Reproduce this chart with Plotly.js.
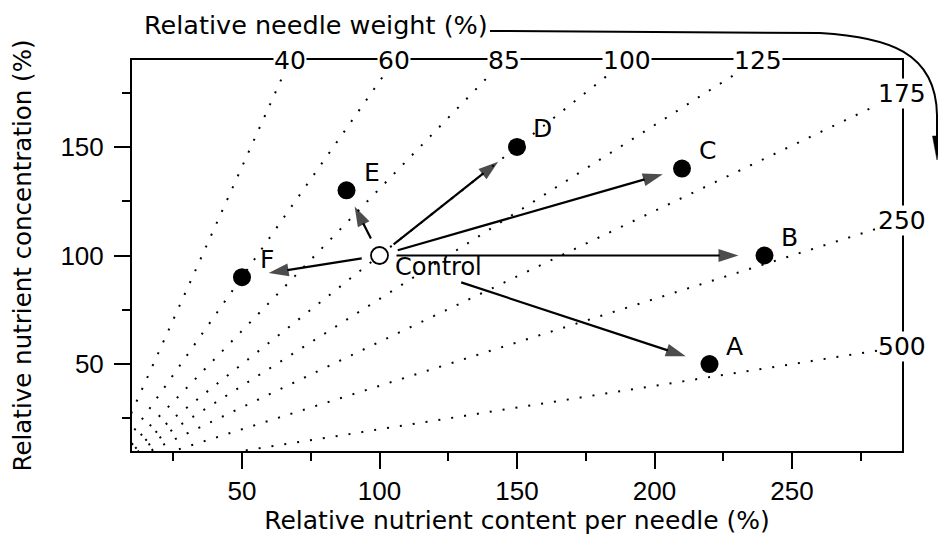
<!DOCTYPE html>
<html>
<head>
<meta charset="utf-8">
<script src="https://cdn.plot.ly/plotly-3.0.1.min.js"></script>
<style>html,body{margin:0;padding:0;background:#fff;}</style>
</head>
<body>
<div id="chart" style="width:938px;height:537px;"></div>
<script>
// ---------- data ----------
const pointLabels = ['A', 'B', 'C', 'D', 'E', 'F'];
const nutrientContent = [220, 240, 210, 150, 88, 50];        // x, %
const nutrientConcentration = [50, 100, 140, 150, 130, 90];  // y, %
const controlLabel = 'Control';
const controlContent = 100;
const controlConcentration = 100;
const weightLabels = ['40', '60', '85', '100', '125', '175', '250', '500'];
const isolineWeight = [35.5, 55.5, 76.5, 100, 125, 166, 250, 500]; // slope of drawn iso-weight lines
const xRange = [10, 290];
const yRange = [10, 190];
const xTitle = 'Relative nutrient content per needle (%)';
const yTitle = 'Relative nutrient concentration (%)';
const topTitle = 'Relative needle weight (%)';

// ---------- layout constants ----------
const W = 938, H = 537;
const M = {l: 132, r: 36, t: 60, b: 86};
const plotW = W - M.l - M.r, plotH = H - M.t - M.b;
const kx = plotW / (xRange[1] - xRange[0]);
const ky = plotH / (yRange[1] - yRange[0]);
const TXT = 'DejaVu Sans';
const NUM = 'Liberation Sans';

// arrow gaps (px) from control and before point
const startGap = {A: 86, B: 17, C: 19, D: 18, E: 19, F: 18};
const endGap = {A: 25, B: 26, C: 20, D: 24, E: 18, F: 27};

const traces = [];

// iso-weight dotted lines through the origin
isolineWeight.forEach((w, i) => {
  traces.push({
    type: 'scatter', mode: 'lines',
    x: [0, xRange[1]],
    y: [0, xRange[1] * 100 / w],
    line: {color: 'black', width: 2, dash: '2px,11px'},
    hoverinfo: 'skip', name: weightLabels[i]
  });
});

// arrows from control to each treatment
pointLabels.forEach((lab, i) => {
  const dxp = (nutrientContent[i] - controlContent) * kx;
  const dyp = (nutrientConcentration[i] - controlConcentration) * ky;
  const L = Math.hypot(dxp, dyp);
  const ux = dxp / L, uy = dyp / L;
  const sx = controlContent + ux * startGap[lab] / kx;
  const sy = controlConcentration + uy * startGap[lab] / ky;
  const ex = nutrientContent[i] - ux * endGap[lab] / kx;
  const ey = nutrientConcentration[i] - uy * endGap[lab] / ky;
  traces.push({
    type: 'scatter', mode: 'lines+markers',
    x: [sx, ex], y: [sy, ey],
    line: {color: 'black', width: 2.2},
    marker: {symbol: ['circle', 'arrow'], size: [0, 21], angleref: 'previous', color: 'black', line: {width: 0}},
    hoverinfo: 'skip'
  });
});

// treatment points
traces.push({
  type: 'scatter', mode: 'markers',
  x: nutrientContent, y: nutrientConcentration,
  marker: {color: 'black', size: 18, line: {width: 0}},
  hoverinfo: 'skip'
});
// control point
traces.push({
  type: 'scatter', mode: 'markers',
  x: [controlContent], y: [controlConcentration],
  marker: {color: 'white', size: 17, line: {color: 'black', width: 1.8}},
  hoverinfo: 'skip'
});

const annotations = [];
// point letters
pointLabels.forEach((lab, i) => {
  annotations.push({
    x: nutrientContent[i], y: nutrientConcentration[i], xref: 'x', yref: 'y',
    text: lab, showarrow: false, xshift: 25, yshift: 18,
    font: {family: TXT, size: 25, color: 'black'}
  });
});
annotations.push({
  x: controlContent, y: controlConcentration, xref: 'x', yref: 'y',
  text: controlLabel, showarrow: false, xanchor: 'left', xshift: 13, yshift: -11,
  font: {family: TXT, size: 24, color: 'black'}
});
// iso-weight labels where each line meets the frame
isolineWeight.forEach((w, i) => {
  const yAtRight = xRange[1] * 100 / w;
  let lx, ly;
  if (yAtRight > yRange[1]) { ly = yRange[1]; lx = yRange[1] * w / 100; }
  else { lx = xRange[1]; ly = yAtRight; }
  annotations.push({
    x: lx, y: ly, xref: 'x', yref: 'y', text: weightLabels[i], showarrow: false,
    bgcolor: 'white', borderpad: 0,
    font: {family: TXT, size: 25, color: 'black'}
  });
});
// top title
const px2paper = (px, py) => [(px - M.l) / plotW, (H - M.b - py) / plotH];
const tp = px2paper(142, 25);
annotations.push({
  x: tp[0], y: tp[1], xref: 'paper', yref: 'paper', xanchor: 'left', yanchor: 'middle',
  text: topTitle, showarrow: false, font: {family: TXT, size: 25.5, color: 'black'}
});

const P = (px, py) => { const p = px2paper(px, py); return p[0] + ',' + p[1]; };
const shapes = [
  {type: 'path', xref: 'paper', yref: 'paper',
   path: 'M' + P(490, 31) + ' L' + P(820, 33) + ' C' + P(888, 37) + ' ' + P(936, 52) + ' ' + P(937, 115) + ' L' + P(937, 138),
   line: {color: 'black', width: 2}},
  {type: 'path', xref: 'paper', yref: 'paper',
   path: 'M' + P(932.5, 136) + ' L' + P(941.5, 136) + ' L' + P(937, 160) + ' Z',
   fillcolor: 'black', line: {color: 'black', width: 0.5}}
];

const axisCommon = {
  ticks: 'outside', ticklen: 16, tickwidth: 2, tickcolor: 'black',
  showline: true, linewidth: 2, linecolor: 'black', mirror: true,
  showgrid: false, zeroline: false, tick0: 0, dtick: 50,
  tickfont: {family: NUM, size: 26, color: 'black'},
  minor: {tick0: 0, dtick: 25, ticks: 'outside', ticklen: 8, tickwidth: 2, tickcolor: 'black', showgrid: false}
};

const layout = {
  width: W, height: H, margin: M,
  paper_bgcolor: 'white', plot_bgcolor: 'white', showlegend: false,
  xaxis: Object.assign({}, axisCommon, {range: xRange,
    title: {text: xTitle, font: {family: TXT, size: 25, color: 'black'}, standoff: 6}}),
  yaxis: Object.assign({}, axisCommon, {range: yRange, ticklabelstandoff: 5,
    title: {text: yTitle, font: {family: TXT, size: 24.5, color: 'black'}, standoff: 22}}),
  annotations: annotations,
  shapes: shapes
};

Plotly.newPlot('chart', traces, layout, {displayModeBar: false, staticPlot: true});
</script>
</body>
</html>
